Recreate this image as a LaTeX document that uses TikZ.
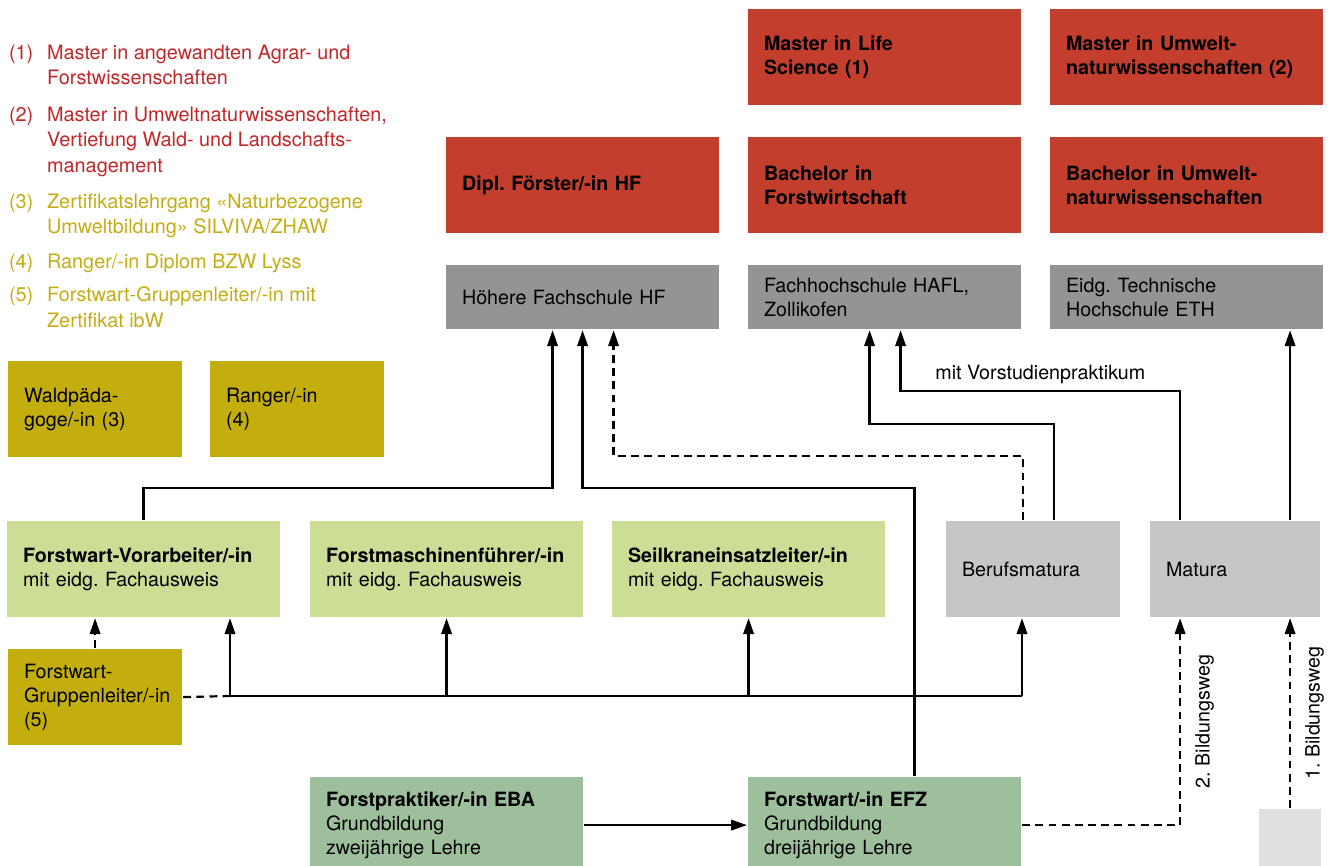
\documentclass[tikz,border=0pt]{standalone}
\usepackage{fontspec}
\setmainfont{TeX Gyre Heros}
\usetikzlibrary{arrows.meta,calc}
\frenchspacing

\definecolor{studred}{RGB}{195,62,45}
\definecolor{schoolgrey}{RGB}{148,148,148}
\definecolor{certolive}{RGB}{196,174,14}
\definecolor{fachgreen}{RGB}{204,221,150}
\definecolor{maturagrey}{RGB}{198,198,198}
\definecolor{grundgreen}{RGB}{157,191,156}
\definecolor{palegrey}{RGB}{224,224,224}
\definecolor{legred}{RGB}{194,38,40}
\definecolor{legolive}{RGB}{196,172,20}

\newcommand{\boxfont}{\fontsize{11.2}{13.6}\selectfont}
\newcommand{\legfont}{\fontsize{11.3}{14.4}\selectfont}

\begin{document}
\begin{tikzpicture}[x=0.02cm, y=-0.02cm, line width=1.25pt,
    box/.style={anchor=north west, inner xsep=0.32cm, inner ysep=0pt, align=left,
        text width=4.82cm, minimum height=1.92cm, font=\boxfont},
    narrow/.style={text width=2.84cm},
    low/.style={minimum height=1.28cm},
    redbox/.style={box, fill=studred, font=\boxfont\bfseries},
    arr/.style={-{Triangle[length=0.32cm,width=0.21cm]}},
    dashline/.style={dash pattern=on 4.5pt off 3pt},
    lbl/.style={rotate=90, anchor=north, inner ysep=8pt, font=\boxfont},
    legnum/.style={anchor=north west, inner sep=0pt, font=\legfont},
    legtext/.style={anchor=north west, inner sep=0pt, align=left, font=\legfont}]
    \useasboundingbox (0,0) rectangle (1330,866);
    \clip (0,0) rectangle (1330,866);

    % legend
    \node[legnum, text=legred] (n1) at (8,44) {(1)};
    \node[legtext, text=legred] (t1) at (46,44) {Master in angewandten Agrar- und\\Forstwissenschaften};
    \node[legnum, text=legred] (n2) at (8,106) {(2)};
    \node[legtext, text=legred] (t2) at (46,106) {Master in Umweltnaturwissenschaften,\\Vertiefung Wald- und Landschafts-\\management};
    \node[legnum, text=legolive] (n3) at (8,193) {(3)};
    \node[legtext, text=legolive] (t3) at (46,193) {Zertifikatslehrgang «Naturbezogene\\Umweltbildung» SILVIVA/ZHAW};
    \node[legnum, text=legolive] (n4) at (8,253) {(4)};
    \node[legtext, text=legolive] (t4) at (46,253) {Ranger/-in Diplom BZW Lyss};
    \node[legnum, text=legolive] (n5) at (8,286) {(5)};
    \node[legtext, text=legolive] (t5) at (46,286) {Forstwart-Gruppenleiter/-in mit\\Zertifikat ibW};

    % studies
    \node[redbox] (msc) at (747,8) {Master in Life\\Science (1)};
    \node[redbox] (mumw) at (1049,8) {Master in Umwelt-\\naturwissenschaften (2)};
    \node[redbox] (dipl) at (445,136) {Dipl. Förster/-in HF};
    \node[redbox] (bfw) at (747,136) {Bachelor in\\Forstwirtschaft};
    \node[redbox] (bumw) at (1049,136) {Bachelor in Umwelt-\\naturwissenschaften};

    % schools
    \node[box, low, fill=schoolgrey] (hf) at (445,264) {Höhere Fachschule HF};
    \node[box, low, fill=schoolgrey] (fh) at (747,264) {Fachhochschule HAFL,\\Zollikofen};
    \node[box, low, fill=schoolgrey] (eth) at (1049,264) {Eidg. Technische\\Hochschule ETH};

    % certificates
    \node[box, narrow, fill=certolive] (wp) at (7,360) {Waldpäda-\\goge/-in (3)};
    \node[box, narrow, fill=certolive] (rg) at (209,360) {Ranger/-in\\(4)};
    \node[box, narrow, fill=certolive] (gl) at (7,648) {Forstwart-\\\mbox{Gruppenleiter/-in}\\(5)};

    % Fachausweis
    \node[box, fill=fachgreen] (fv) at (6,520) {\textbf{Forstwart-Vorarbeiter/-in}\\mit eidg. Fachausweis};
    \node[box, fill=fachgreen] (fm) at (309,520) {\textbf{Forstmaschinenführer/-in}\\mit eidg. Fachausweis};
    \node[box, fill=fachgreen] (sk) at (611,520) {\textbf{Seilkraneinsatzleiter/-in}\\mit eidg. Fachausweis};

    % Matura
    \node[box, narrow, fill=maturagrey] (bm) at (945,520) {Berufsmatura};
    \node[box, narrow, fill=maturagrey, text width=2.76cm] (mat) at (1149,520) {Matura};

    % Grundbildung
    \node[box, fill=grundgreen] (fp) at (309,776) {\textbf{Forstpraktiker/-in EBA}\\Grundbildung\\zweijährige Lehre};
    \node[box, fill=grundgreen] (efz) at (747,776) {\textbf{Forstwart/-in EFZ}\\Grundbildung\\dreijährige Lehre};
    \node[anchor=north west, fill=palegrey, minimum width=1.24cm, minimum height=1.28cm] (small) at (1258,808) {};

    % connectors
    \coordinate (hfL) at ($(hf.south)+(-30,0)$);
    \coordinate (hfR) at ($(hf.south)+(31,0)$);
    \coordinate (fhL) at ($(fh.south)+(-15,0)$);
    \coordinate (fhR) at ($(fh.south)+(16,0)$);
    \coordinate (matL) at ($(mat.south)+(-55,0)$);
    \coordinate (matR) at ($(mat.north)+(55,0)$);
    \coordinate (busW) at (230,696);
    \coordinate (busE) at (1022,696);

    \draw[arr] (fv.north) -- ++(0,-32) -| (hfL);
    \draw[arr] ($(efz.north)+(30,0)$) -- ++(0,-288) -| (hf.south);
    \draw[arr, dashline] ($(bm.north)+(-10,0)$) -- ++(0,-64) -| (hfR);
    \draw[arr] ($(bm.north)+(21,0)$) -- ++(0,-96) -| (fhL);
    \draw[arr] ($(mat.north)+(-55,0)$) -- ++(0,-129) -| node[pos=0.25, above, font=\boxfont] {mit Vorstudienpraktikum} (fhR);
    \draw[arr] (matR) -- (matR |- eth.south);

    \draw (busW) -- (busE);
    \draw[dashline] (gl.east) -- (busW);
    \draw[arr] (busW) -- (busW |- fv.south);
    \draw[arr] (fm.south |- busW) -- (fm.south);
    \draw[arr] (sk.south |- busW) -- (sk.south);
    \draw[arr] (busE) -- (busE |- bm.south);
    \draw[arr, dashline] (gl.north) -- (gl.north |- fv.south);

    \draw[arr] (fp.east) -- (efz.west);
    \draw[arr, dashline] (efz.east) -| node[pos=0.75, lbl] {2. Bildungsweg} (matL);
    \draw[arr, dashline] (small.north) -- node[midway, lbl] {1. Bildungsweg} (small.north |- mat.south);
\end{tikzpicture}
\end{document}
